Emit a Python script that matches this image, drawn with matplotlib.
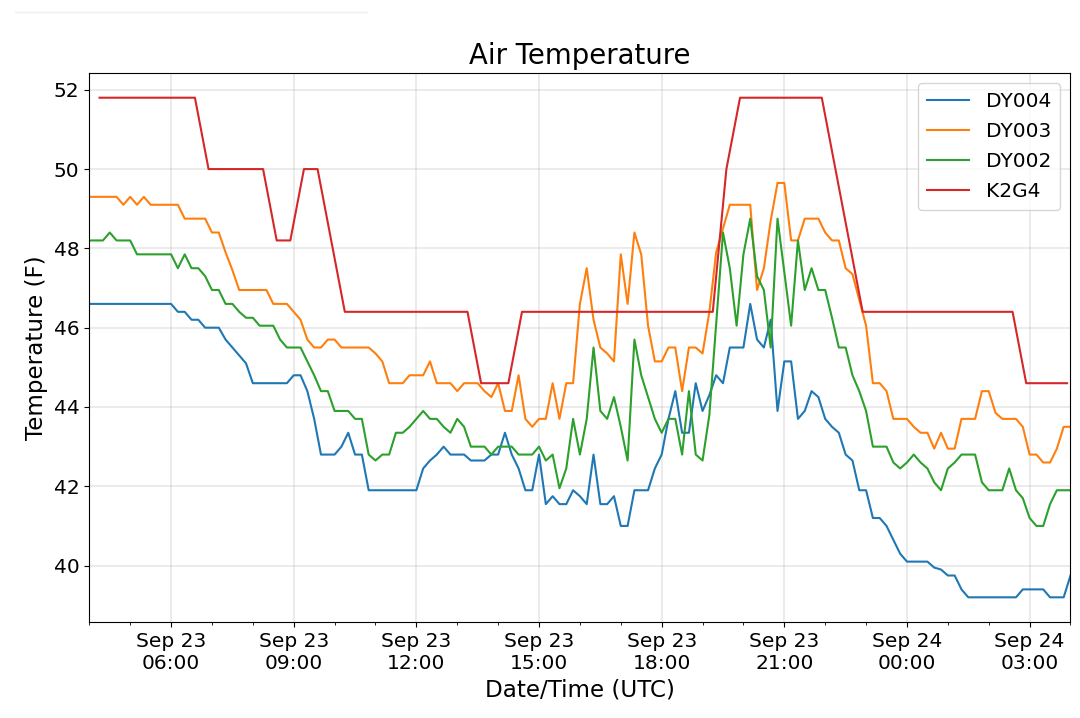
import pandas as pd
import matplotlib
matplotlib.use("Agg")
import matplotlib.pyplot as plt
import matplotlib.dates as mdates
from matplotlib.lines import Line2D

# station readings every 10 minutes, starting Sep 23 04:00 UTC
start_time = "2018-09-23 04:00"
step = "10min"

dy004 = [46.6] * 13 + [
    46.4, 46.4, 46.2, 46.2, 46.0, 46.0, 46.0, 45.7, 45.5, 45.3, 45.1,
    44.6, 44.6, 44.6, 44.6, 44.6, 44.6, 44.8, 44.8, 44.4, 43.7, 42.8,
    42.8, 42.8, 43.0, 43.35, 42.8, 42.8, 41.9, 41.9, 41.9, 41.9, 41.9,
    41.9, 41.9, 41.9, 42.45, 42.65, 42.8, 43.0, 42.8, 42.8, 42.8, 42.65,
    42.65, 42.65, 42.8, 42.8, 43.35, 42.8, 42.45, 41.9, 41.9, 42.8, 41.55,
    41.75, 41.55, 41.55, 41.9, 41.75, 41.55, 42.8, 41.55, 41.55, 41.75,
    41.0, 41.0, 41.9, 41.9, 41.9, 42.45, 42.8, 43.7, 44.4, 43.35, 43.35,
    44.6, 43.9, 44.3, 44.8, 44.6, 45.5, 45.5, 45.5, 46.6, 45.7, 45.5,
    46.2, 43.9, 45.15, 45.15, 43.7, 43.9, 44.4, 44.25, 43.7, 43.5, 43.35,
    42.8, 42.65, 41.9, 41.9, 41.2, 41.2, 41.0, 40.65, 40.3, 40.1, 40.1,
    40.1, 40.1, 39.95, 39.9, 39.75, 39.75, 39.4, 39.2, 39.2, 39.2, 39.2,
    39.2, 39.2, 39.2, 39.2, 39.4, 39.4, 39.4, 39.4, 39.2, 39.2, 39.2, 39.75,
]

dy003 = [
    49.3, 49.3, 49.3, 49.3, 49.3, 49.1, 49.3, 49.1, 49.3, 49.1, 49.1,
    49.1, 49.1, 49.1, 48.75, 48.75, 48.75, 48.75, 48.4, 48.4, 47.9, 47.45,
    46.95, 46.95, 46.95, 46.95, 46.95, 46.6, 46.6, 46.6, 46.4, 46.2, 45.7,
    45.5, 45.5, 45.7, 45.7, 45.5, 45.5, 45.5, 45.5, 45.5, 45.35, 45.15,
    44.6, 44.6, 44.6, 44.8, 44.8, 44.8, 45.15, 44.6, 44.6, 44.6, 44.4,
    44.6, 44.6, 44.6, 44.4, 44.25, 44.6, 43.9, 43.9, 44.8, 43.7, 43.5,
    43.7, 43.7, 44.6, 43.7, 44.6, 44.6, 46.6, 47.5, 46.2, 45.5, 45.35,
    45.15, 47.85, 46.6, 48.4, 47.85, 46.05, 45.15, 45.15, 45.5, 45.5, 44.4,
    45.5, 45.5, 45.35, 46.4, 47.9, 48.5, 49.1, 49.1, 49.1, 49.1, 46.95,
    47.5, 48.7, 49.65, 49.65, 48.2, 48.2, 48.75, 48.75, 48.75, 48.4, 48.2,
    48.2, 47.5, 47.35, 46.7, 46.05, 44.6, 44.6, 44.4, 43.7, 43.7, 43.7,
    43.5, 43.35, 43.35, 42.95, 43.35, 42.95, 42.95, 43.7, 43.7, 43.7, 44.4,
    44.4, 43.85, 43.7, 43.7, 43.7, 43.5, 42.8, 42.8, 42.6, 42.6, 42.95,
    43.5, 43.5,
]

dy002 = [
    48.2, 48.2, 48.2, 48.4, 48.2, 48.2, 48.2, 47.85, 47.85, 47.85, 47.85,
    47.85, 47.85, 47.5, 47.85, 47.5, 47.5, 47.3, 46.95, 46.95, 46.6, 46.6,
    46.4, 46.25, 46.25, 46.05, 46.05, 46.05, 45.7, 45.5, 45.5, 45.5, 45.15,
    44.8, 44.4, 44.4, 43.9, 43.9, 43.9, 43.7, 43.7, 42.8, 42.65, 42.8,
    42.8, 43.35, 43.35, 43.5, 43.7, 43.9, 43.7, 43.7, 43.5, 43.35, 43.7,
    43.5, 43.0, 43.0, 43.0, 42.8, 43.0, 43.0, 43.0, 42.8, 42.8, 42.8,
    43.0, 42.65, 42.8, 41.95, 42.45, 43.7, 42.8, 43.7, 45.5, 43.9, 43.7,
    44.25, 43.5, 42.65, 45.7, 44.8, 44.25, 43.7, 43.35, 43.7, 43.7, 42.8,
    44.4, 42.8, 42.65, 43.8, 46.1, 48.4, 47.5, 46.05, 47.85, 48.75, 47.3,
    46.95, 45.5, 48.75, 47.4, 46.05, 48.2, 46.95, 47.5, 46.95, 46.95, 46.25,
    45.5, 45.5, 44.8, 44.4, 43.9, 43.0, 43.0, 43.0, 42.6, 42.45, 42.6,
    42.8, 42.6, 42.45, 42.1, 41.9, 42.45, 42.6, 42.8, 42.8, 42.8, 42.1,
    41.9, 41.9, 41.9, 42.45, 41.9, 41.7, 41.2, 41.0, 41.0, 41.55, 41.9,
    41.9, 41.9,
]

# airport observations (only where the reading changes)
k2g4_times = [
    "2018-09-23 04:15", "2018-09-23 06:35", "2018-09-23 06:55", "2018-09-23 08:15",
    "2018-09-23 08:35", "2018-09-23 08:55", "2018-09-23 09:15", "2018-09-23 09:35",
    "2018-09-23 10:15", "2018-09-23 13:15", "2018-09-23 13:35", "2018-09-23 14:15",
    "2018-09-23 14:35", "2018-09-23 19:15", "2018-09-23 19:35", "2018-09-23 19:55",
    "2018-09-23 21:55", "2018-09-23 22:55", "2018-09-24 02:35", "2018-09-24 02:55",
    "2018-09-24 03:55",
]
k2g4 = [51.8, 51.8, 50.0, 50.0, 48.2, 48.2, 50.0, 50.0, 46.4, 46.4, 44.6,
        44.6, 46.4, 46.4, 50.0, 51.8, 51.8, 46.4, 46.4, 44.6, 44.6]

times = pd.date_range(start_time, periods=len(dy004), freq=step)
k2g4_t = pd.to_datetime(k2g4_times)

fig = plt.figure(figsize=(10.8, 7.18), dpi=100)
ax = fig.add_axes([0.0827, 0.1333, 0.9085, 0.7654])

ax.plot(times, dy004, color="C0", lw=1.5, label="DY004")
ax.plot(times, dy003, color="C1", lw=1.5, label="DY003")
ax.plot(times, dy002, color="C2", lw=1.5, label="DY002")
ax.plot(k2g4_t, k2g4, color="C3", lw=1.5, label="K2G4")

ax.set_xlim(times[0], times[-1])
ax.set_ylim(38.57, 52.43)

ax.xaxis.set_major_locator(mdates.HourLocator(byhour=range(0, 24, 3)))
ax.xaxis.set_minor_locator(mdates.HourLocator())
ax.xaxis.set_major_formatter(mdates.DateFormatter("%b %d\n%H:%M"))
ax.set_yticks([40, 42, 44, 46, 48, 50, 52])
ax.tick_params(labelsize=14.5)

ax.grid(True, which="major", color="#b0b0b0", alpha=0.3, lw=1.2)
ax.set_title("Air Temperature", fontsize=19.8)
ax.set_xlabel("Date/Time (UTC)", fontsize=16.6)
ax.set_ylabel("Temperature (F)", fontsize=16.6)
ax.legend(loc="upper right", fontsize=14.5, handlelength=2.1,
          handletextpad=0.85, borderpad=0.45, labelspacing=0.55)

# faint rule at the very top left of the screenshot
fig.add_artist(Line2D([15 / 1080, 367 / 1080], [1 - 12 / 718, 1 - 12 / 718],
                      color="#eeeeee", lw=1))

fig.savefig("out.png", dpi=100)
